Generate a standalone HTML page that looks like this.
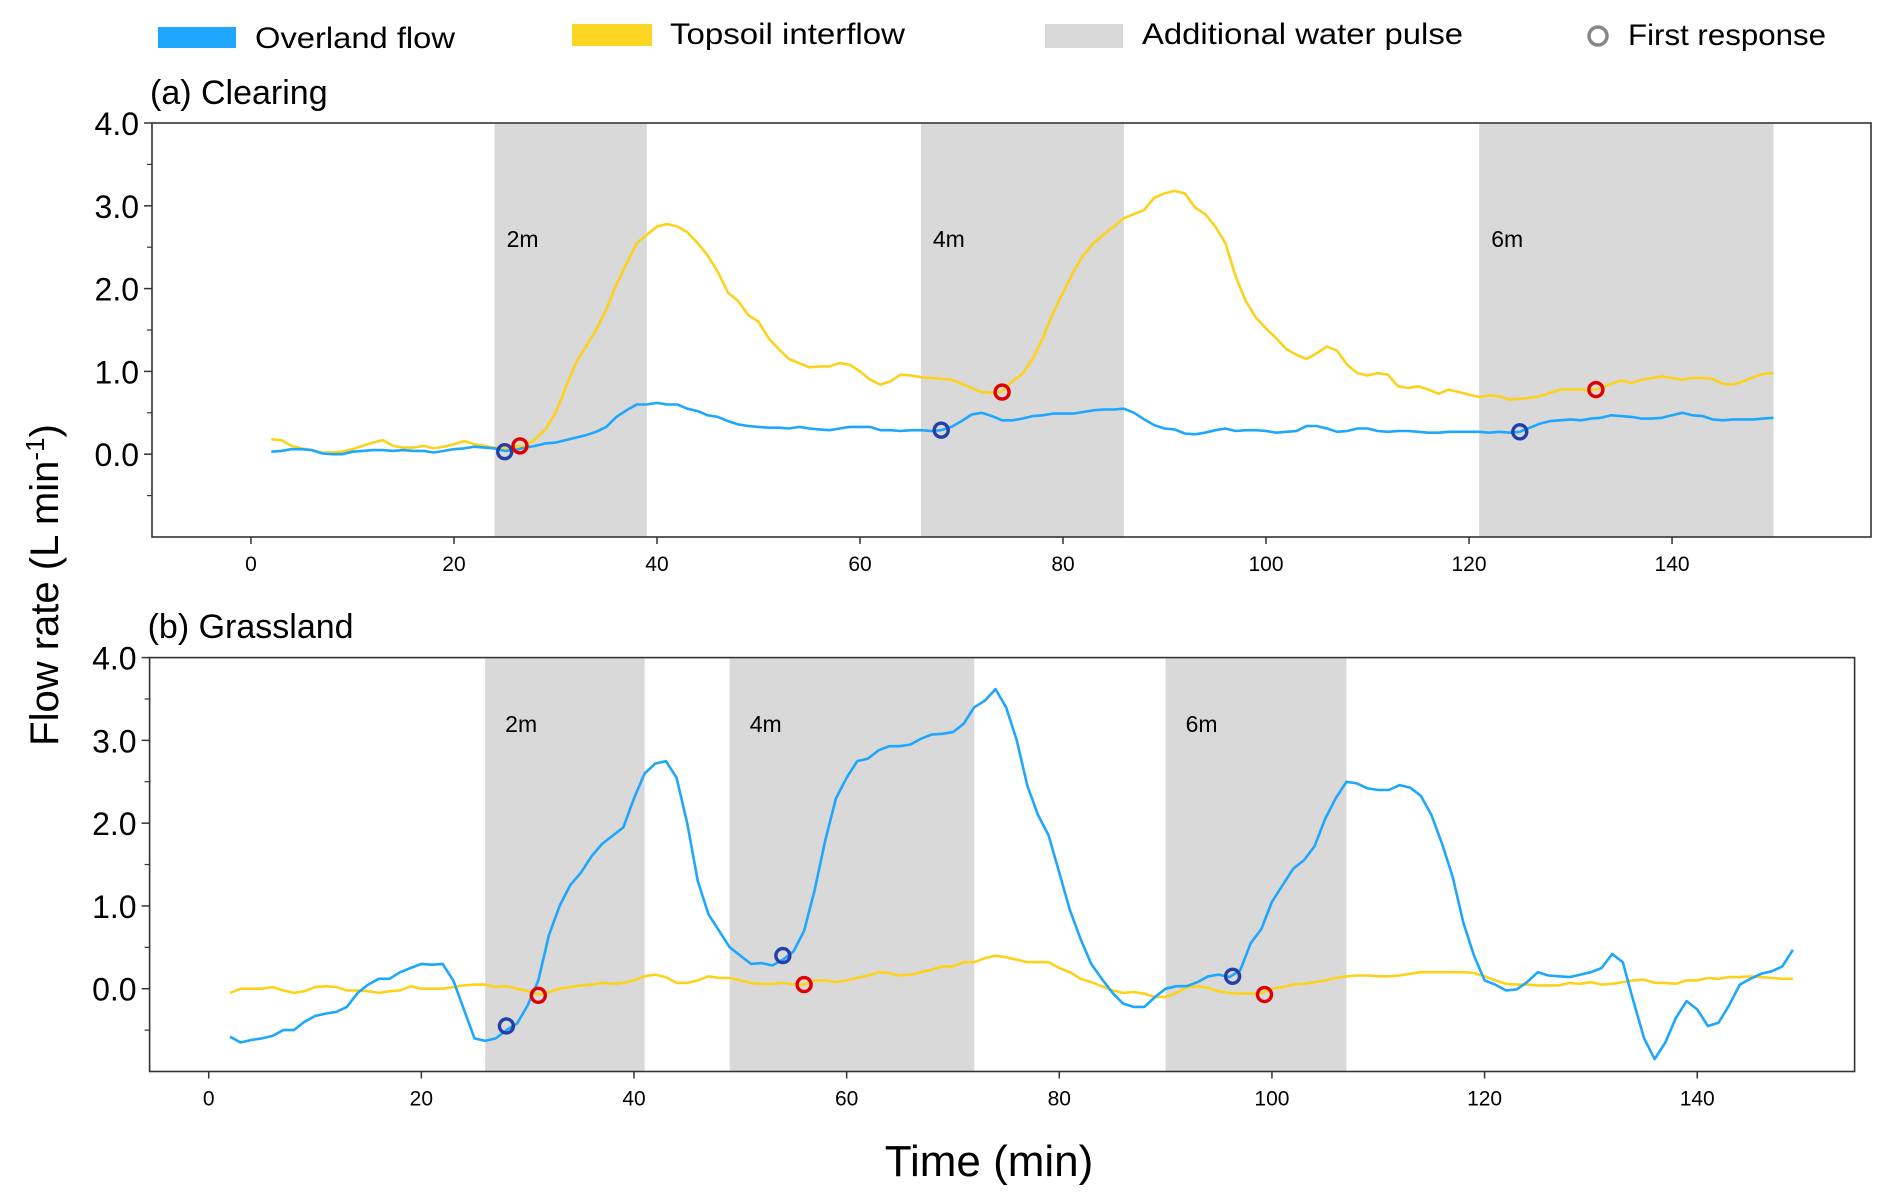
<!DOCTYPE html>
<html><head><meta charset="utf-8"><style>
html,body{margin:0;padding:0;background:#fff;width:1892px;height:1200px;overflow:hidden}
svg{display:block;font-family:"Liberation Sans",sans-serif}
</style></head><body>
<svg id="chart" width="1892" height="1200" viewBox="0 0 1892 1200" xmlns="http://www.w3.org/2000/svg">
<g>
<rect x="158" y="27" width="78" height="21" fill="#1ea7fd"/>
<text x="255" y="48" font-size="30" textLength="200" lengthAdjust="spacingAndGlyphs">Overland flow</text>
<rect x="572" y="24" width="80" height="22" fill="#fdd523"/>
<text x="670" y="44" font-size="30" textLength="235" lengthAdjust="spacingAndGlyphs">Topsoil interflow</text>
<rect x="1045" y="24" width="78" height="24" fill="#d9d9d9"/>
<text x="1142" y="44" font-size="30" textLength="321" lengthAdjust="spacingAndGlyphs">Additional water pulse</text>
<circle cx="1598" cy="36" r="9" fill="none" stroke="#888" stroke-width="3.5"/>
<text x="1628" y="45" font-size="30" textLength="198" lengthAdjust="spacingAndGlyphs">First response</text>
</g>
<text transform="translate(58,585) rotate(-90)" text-anchor="middle" font-size="40">Flow rate (L min<tspan dy="-14" font-size="26">-1</tspan><tspan dy="14">)</tspan></text>
<text x="989" y="1176" text-anchor="middle" font-size="44">Time (min)</text>
</svg>
<script>
// ---- data ----
const aX0 = 2;
const aTopsoil = [0.18,0.17,0.1,0.07,0.05,0.02,0.02,0.03,0.06,0.1,0.14,0.17,0.1,0.08,0.08,0.1,0.07,0.09,0.12,0.16,0.12,0.1,0.08,0.07,0.09,0.1,0.18,0.3,0.5,0.8,1.1,1.3,1.5,1.75,2.05,2.3,2.55,2.65,2.75,2.78,2.75,2.68,2.55,2.4,2.2,1.95,1.85,1.68,1.6,1.4,1.27,1.15,1.1,1.05,1.06,1.06,1.1,1.08,1.0,0.9,0.84,0.88,0.96,0.95,0.93,0.92,0.91,0.9,0.85,0.8,0.75,0.74,0.76,0.88,0.97,1.15,1.4,1.7,1.95,2.2,2.4,2.55,2.65,2.75,2.85,2.9,2.95,3.1,3.15,3.18,3.15,2.98,2.9,2.75,2.55,2.15,1.85,1.65,1.52,1.4,1.27,1.2,1.15,1.22,1.3,1.25,1.08,0.98,0.95,0.98,0.96,0.82,0.8,0.82,0.78,0.73,0.78,0.75,0.72,0.69,0.71,0.7,0.66,0.67,0.68,0.7,0.74,0.78,0.78,0.78,0.77,0.8,0.85,0.89,0.86,0.9,0.92,0.94,0.92,0.9,0.92,0.92,0.91,0.85,0.84,0.88,0.93,0.97,0.98];
const aOverland = [0.03,0.04,0.06,0.06,0.05,0.01,0.0,0.0,0.03,0.04,0.05,0.05,0.04,0.05,0.04,0.04,0.02,0.04,0.06,0.07,0.09,0.08,0.07,0.04,0.05,0.08,0.1,0.13,0.14,0.17,0.2,0.23,0.27,0.33,0.45,0.53,0.6,0.6,0.62,0.6,0.6,0.55,0.52,0.47,0.45,0.4,0.36,0.34,0.33,0.32,0.32,0.31,0.33,0.31,0.3,0.29,0.31,0.33,0.33,0.33,0.29,0.29,0.28,0.29,0.29,0.28,0.29,0.33,0.4,0.48,0.5,0.46,0.41,0.41,0.43,0.46,0.47,0.49,0.49,0.49,0.51,0.53,0.54,0.54,0.55,0.5,0.42,0.35,0.31,0.3,0.25,0.24,0.26,0.29,0.31,0.28,0.29,0.29,0.28,0.26,0.27,0.28,0.34,0.34,0.31,0.27,0.28,0.31,0.31,0.28,0.27,0.28,0.28,0.27,0.26,0.26,0.27,0.27,0.27,0.27,0.26,0.27,0.26,0.27,0.32,0.37,0.4,0.41,0.42,0.41,0.43,0.44,0.47,0.46,0.45,0.43,0.43,0.44,0.47,0.5,0.47,0.46,0.42,0.41,0.42,0.42,0.42,0.43,0.44];
const aPulses = [[24,39],[66,86],[121,150]];
const aPulseLabels = ["2m","4m","6m"];
const aBlueMarks = [[25,0.03],[68,0.29],[125,0.27]];
const aRedMarks = [[26.5,0.1],[74,0.75],[132.5,0.78]];

const bX0 = 2;
const bOverland = [-0.58,-0.65,-0.62,-0.6,-0.57,-0.5,-0.5,-0.4,-0.33,-0.3,-0.28,-0.22,-0.05,0.05,0.12,0.12,0.2,0.25,0.3,0.29,0.3,0.1,-0.25,-0.6,-0.63,-0.6,-0.5,-0.42,-0.2,0.1,0.65,1.0,1.25,1.4,1.6,1.75,1.85,1.95,2.3,2.6,2.72,2.75,2.55,2.0,1.3,0.9,0.7,0.5,0.4,0.3,0.31,0.28,0.35,0.45,0.7,1.2,1.8,2.3,2.55,2.75,2.78,2.88,2.93,2.93,2.95,3.02,3.07,3.08,3.1,3.2,3.4,3.48,3.62,3.4,3.0,2.45,2.1,1.85,1.4,0.95,0.6,0.3,0.12,-0.05,-0.18,-0.22,-0.22,-0.1,0.0,0.03,0.03,0.08,0.15,0.17,0.14,0.22,0.55,0.72,1.05,1.25,1.45,1.55,1.72,2.05,2.3,2.5,2.48,2.42,2.4,2.4,2.46,2.43,2.33,2.1,1.75,1.35,0.8,0.4,0.1,0.05,-0.02,-0.01,0.08,0.2,0.16,0.15,0.14,0.17,0.2,0.25,0.42,0.32,-0.15,-0.6,-0.85,-0.65,-0.35,-0.15,-0.25,-0.45,-0.41,-0.2,0.05,0.12,0.18,0.21,0.27,0.47];
const bTopsoil = [-0.05,0.0,0.0,0.0,0.02,-0.02,-0.05,-0.03,0.02,0.03,0.02,-0.02,-0.02,-0.03,-0.05,-0.03,-0.02,0.03,0.0,0.0,0.0,0.02,0.04,0.05,0.05,0.02,0.03,0.0,-0.03,-0.07,-0.04,0.0,0.02,0.04,0.05,0.07,0.06,0.07,0.1,0.15,0.17,0.14,0.07,0.07,0.1,0.15,0.13,0.13,0.1,0.07,0.06,0.06,0.07,0.05,0.05,0.1,0.1,0.08,0.1,0.13,0.16,0.2,0.19,0.16,0.17,0.2,0.23,0.27,0.27,0.32,0.32,0.37,0.4,0.38,0.35,0.32,0.32,0.32,0.25,0.2,0.12,0.08,0.03,-0.02,-0.05,-0.04,-0.06,-0.1,-0.1,-0.05,0.02,0.03,0.01,-0.03,-0.05,-0.06,-0.06,-0.05,0.0,0.02,0.05,0.06,0.08,0.1,0.13,0.15,0.16,0.16,0.15,0.15,0.16,0.18,0.2,0.2,0.2,0.2,0.2,0.19,0.15,0.1,0.06,0.05,0.05,0.04,0.04,0.04,0.07,0.06,0.08,0.05,0.06,0.08,0.1,0.11,0.07,0.07,0.06,0.1,0.1,0.13,0.12,0.14,0.14,0.15,0.14,0.13,0.12,0.12];
const bPulses = [[26,41],[49,72],[90,107]];
const bPulseLabels = ["2m","4m","6m"];
const bBlueMarks = [[28,-0.45],[54,0.4],[96.3,0.15]];
const bRedMarks = [[31,-0.08],[56,0.05],[99.3,-0.07]];

const xTicks = [0,20,40,60,80,100,120,140];
const yTicks = [0,1,2,3,4];
const yTickLabels = ["0.0","1.0","2.0","3.0","4.0"];
const yMinor = [-0.5,0.5,1.5,2.5,3.5];

const NS = "http://www.w3.org/2000/svg";
const svg = document.getElementById("chart");
function mk(tag, attrs, parent){
  const e = document.createElementNS(NS, tag);
  for (const k in attrs) e.setAttribute(k, attrs[k]);
  (parent||svg).appendChild(e);
  return e;
}

function panel(cfg){
  const L=cfg.left,R=cfg.right,T=cfg.top,B=cfg.bottom;
  const sx = v => L + (v - cfg.xmin)/(cfg.xmax-cfg.xmin)*(R-L);
  const sy = v => B - (v - (-1))/(4-(-1))*(B-T);
  const g = mk("g",{});
  
  
  const t = mk("text",{x:L-2,y:cfg.titleY,"font-size":34},g);
  t.textContent = cfg.title;
  
  
  cfg.pulses.forEach((p,i)=>{
    const r = mk("rect",{x:sx(p[0]),y:T+1,width:sx(p[1])-sx(p[0]),height:B-T-1,fill:"#d9d9d9"},g);
    
    
    const lb = mk("text",{x:sx(p[0])+cfg.labelDx,y:sy(cfg.labelY),"font-size":23},g);
    lb.textContent = cfg.labels[i];
    
    
  });
  function line(vals,x0,color,name){
    const d = vals.map((v,i)=>(i?"L":"M")+sx(x0+i).toFixed(1)+","+sy(v).toFixed(1)).join(" ");
    const p = mk("path",{d:d,fill:"none",stroke:color,"stroke-width":2.6,"stroke-linejoin":"round"},g);
    
    
  }
  line(cfg.topsoil,cfg.x0,"#fdd21c","topsoil-interflow-line");
  line(cfg.overland,cfg.x0,"#1ea7fd","overland-flow-line");
  cfg.blue.forEach(m=>{
    const c = mk("circle",{cx:sx(m[0]),cy:sy(m[1]),r:7,fill:"none",stroke:"#2340a8","stroke-width":3.4},g);
    
    
  });
  cfg.red.forEach(m=>{
    const c = mk("circle",{cx:sx(m[0]),cy:sy(m[1]),r:7,fill:"none",stroke:"#e00000","stroke-width":3.4},g);
    
    
  });
  const f = mk("rect",{x:L,y:T,width:R-L,height:B-T,fill:"none",stroke:"#333","stroke-width":1.6},g);
  
  
  xTicks.forEach(v=>{
    mk("line",{x1:sx(v),x2:sx(v),y1:B,y2:B+7,stroke:"#333","stroke-width":1.5},g);
    const tx = mk("text",{x:sx(v),y:B+34,"text-anchor":"middle","font-size":21},g);
    tx.textContent = v;
    
    
  });
  yTicks.forEach((v,i)=>{
    mk("line",{x1:L-8,x2:L,y1:sy(v),y2:sy(v),stroke:"#333","stroke-width":1.5},g);
    const ty = mk("text",{x:L-13,y:sy(v)+12,"text-anchor":"end","font-size":32},g);
    ty.textContent = yTickLabels[i];
    
    
  });
  yMinor.forEach(v=>{
    mk("line",{x1:L-5,x2:L,y1:sy(v),y2:sy(v),stroke:"#333","stroke-width":1.2},g);
  });
}

panel({name:"panel-clearing",title:"(a) Clearing",titleY:104,left:152,right:1871,top:123,bottom:537,xmin:-9.75,xmax:159.6,
  x0:aX0,topsoil:aTopsoil,overland:aOverland,pulses:aPulses,labels:aPulseLabels,labelDx:12,labelY:2.5,blue:aBlueMarks,red:aRedMarks});
panel({name:"panel-grassland",title:"(b) Grassland",titleY:638,left:149.6,right:1854.6,top:657.6,bottom:1071.5,xmin:-5.56,xmax:154.8,
  x0:bX0,topsoil:bTopsoil,overland:bOverland,pulses:bPulses,labels:bPulseLabels,labelDx:20,labelY:3.1,blue:bBlueMarks,red:bRedMarks});
</script>
</body></html>
